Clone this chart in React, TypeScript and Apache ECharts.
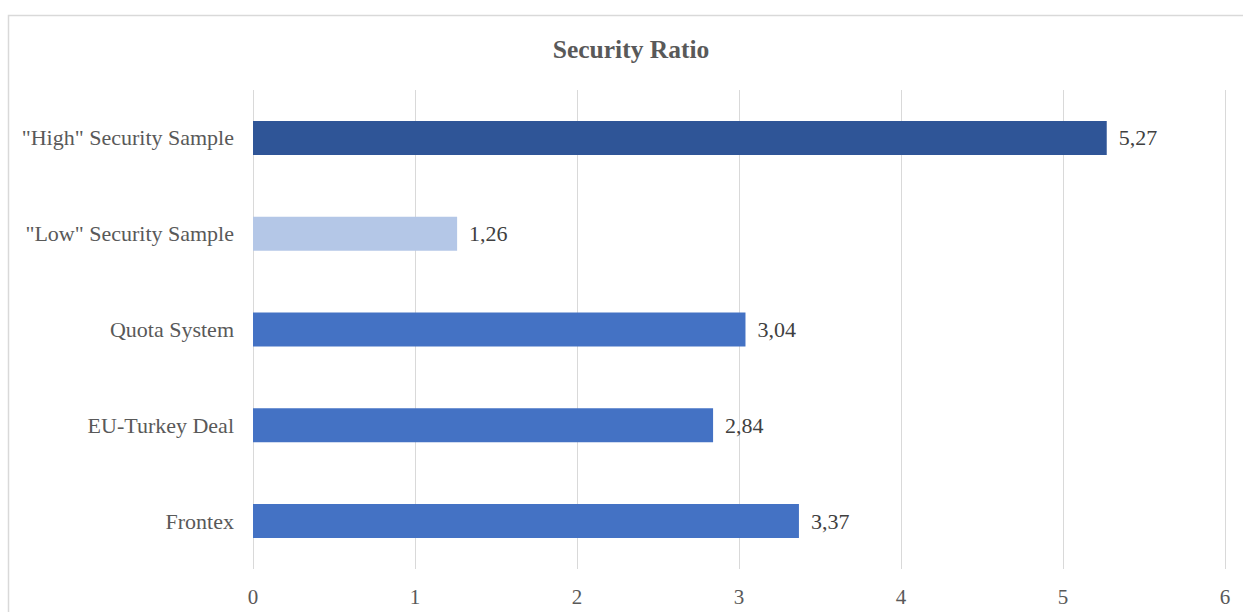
import React, { useEffect, useRef } from "react";
import * as echarts from "echarts";

const categories = [
  '"High" Security Sample',
  '"Low" Security Sample',
  "Quota System",
  "EU-Turkey Deal",
  "Frontex",
];
const values = [5.27, 1.26, 3.04, 2.84, 3.37];
const barColors = ["#2F5597", "#B4C7E7", "#4472C4", "#4472C4", "#4472C4"];
const chartTitle = "Security Ratio";

const FONT = '"Liberation Serif", "Times New Roman", serif';

export default function App() {
  const ref = useRef<HTMLDivElement>(null);

  useEffect(() => {
    if (!ref.current) return;
    const chart = echarts.init(ref.current, undefined, { renderer: "svg" });
    chart.setOption({
      animation: false,
      backgroundColor: "#ffffff",
      title: {
        text: chartTitle,
        left: 626,
        top: 31,
        textAlign: "center",
        textStyle: {
          fontFamily: FONT,
          fontSize: 25.5,
          fontWeight: "bold",
          color: "#595959",
        },
      },
      graphic: [
        {
          type: "rect",
          shape: { x: 8.5, y: 15.5, width: 1260, height: 640 },
          style: { fill: "none", stroke: "#d9d9d9", lineWidth: 1.5 },
          silent: true,
          z: -1,
        },
      ],
      grid: { left: 253, right: 18, top: 90, bottom: 43 },
      xAxis: {
        type: "value",
        min: 0,
        max: 6,
        interval: 1,
        axisLine: { show: false },
        axisTick: { show: false },
        splitLine: { lineStyle: { color: "#d9d9d9", width: 1 } },
        axisLabel: {
          fontFamily: FONT,
          fontSize: 21,
          color: "#595959",
          margin: 17,
        },
      },
      yAxis: {
        type: "category",
        data: categories,
        inverse: true,
        axisLine: { show: false },
        axisTick: { show: false },
        axisLabel: {
          fontFamily: FONT,
          fontSize: 22,
          color: "#595959",
          margin: 19,
        },
      },
      series: [
        {
          type: "bar",
          barWidth: 34,
          data: values.map((v, i) => ({
            value: v,
            itemStyle: { color: barColors[i] },
          })),
          label: {
            show: true,
            position: "right",
            distance: 12,
            fontFamily: FONT,
            fontSize: 22,
            color: "#404040",
            formatter: (p: any) => p.value.toFixed(2).replace(".", ","),
          },
        },
      ],
    });
    return () => chart.dispose();
  }, []);

  return (
    <div
      ref={ref}
      style={{
        position: "absolute",
        left: 0,
        top: 0,
        width: 1243,
        height: 612,
        overflow: "hidden",
      }}
    />
  );
}
